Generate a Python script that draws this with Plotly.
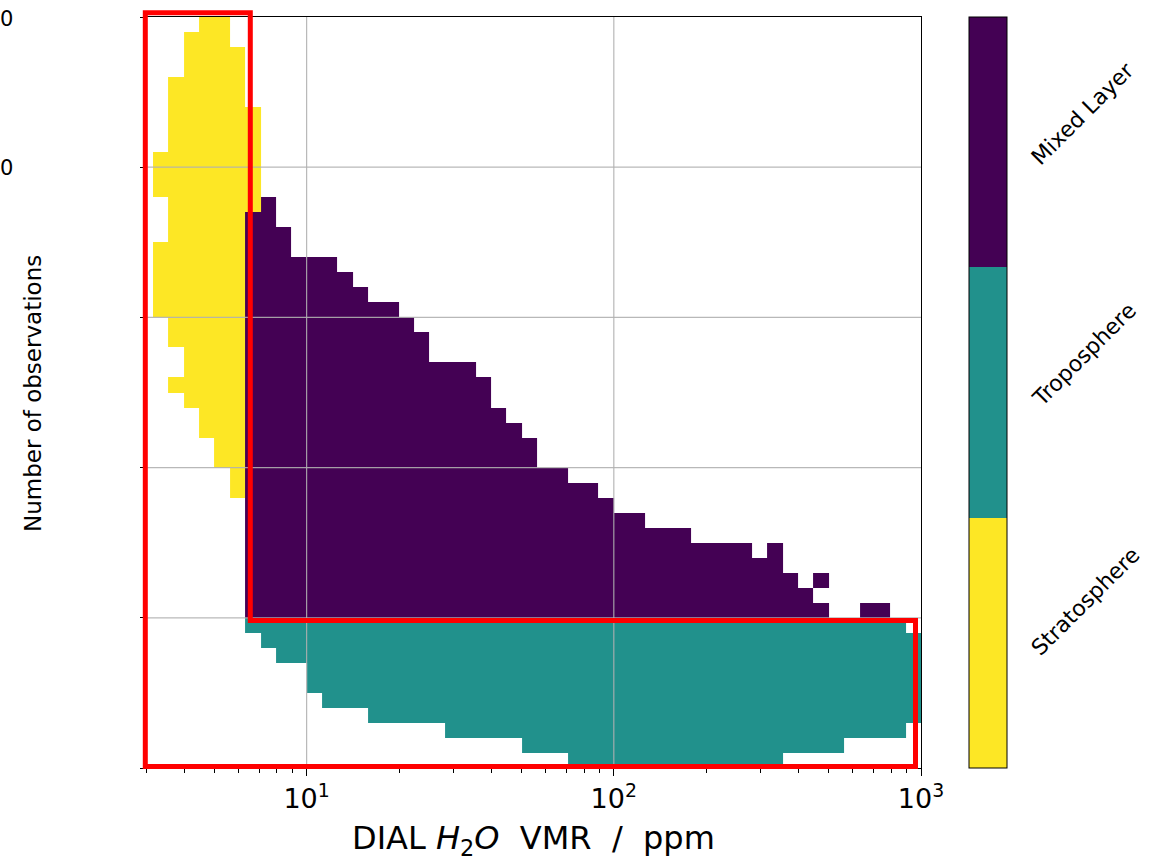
import numpy as np
import plotly.graph_objects as go

# ---------------- data ----------------
N_COLS = 50            # x bins: 20 per decade from 10^0.5 to 10^3
N_ROWS = 50            # y bins
x_edges = [10 ** (0.5 + j / 20) for j in range(N_COLS + 1)]
y_edges = list(range(N_ROWS + 1))

categories = ["Stratosphere", "Troposphere", "Mixed Layer"]
cat_colors = ["#fde725", "#21918c", "#440154"]

# Stratosphere (yellow): per column lowest / highest filled row
strat_cols = [0, 1, 2, 3, 4, 5, 6]
strat_low = [30, 28, 24, 22, 20, 18, 37]
strat_high = [40, 45, 48, 49, 49, 47, 43]
strat_holes = [(0, 35), (0, 36), (0, 37)]
strat_extra = [(1, 25)]

# Mixed layer (purple): columns 6..49, bottom row 10, top row per column
mixed_cols = list(range(6, 50))
mixed_bottom = 10
mixed_top = [36, 37, 35, 33, 33, 33, 32, 31, 30, 30,
             29, 28, 26, 26, 26, 25, 23, 22, 21, 19,
             19, 18, 18, 17, 16, 16, 15, 15, 15, 14,
             14, 14, 14, 13, 14, 12, 11, 12, None, None,
             10, 10, None, None]
mixed_holes = [(43, 11)]

# Troposphere (teal): columns 6..49
trop_cols = list(range(6, 50))
trop_top = [9] * 43 + [8]
trop_bottom = [9, 8, 7, 7, 5, 4, 4, 4, 3, 3,
               3, 3, 3, 2, 2, 2, 2, 2, 1, 1,
               1, 0, 0, 0, 0, 0, 0, 0, 0, 0,
               0, 0, 0, 0, 0, 1, 1, 1, 1, 2,
               2, 2, 2, 3]

y_tick_vals = [0, 10, 20, 30, 40, 50]
x_major = [10, 100, 1000]
x_major_text = ["10<sup>1</sup>", "10<sup>2</sup>", "10<sup>3</sup>"]
x_minor = [3, 4, 5, 6, 7, 8, 9, 20, 30, 40, 50, 60, 70, 80, 90,
           200, 300, 400, 500, 600, 700, 800, 900]

# ---------------- build grid ----------------
z = np.full((N_ROWS, N_COLS), np.nan)
for c, lo, hi in zip(strat_cols, strat_low, strat_high):
    z[lo:hi + 1, c] = 0
for c, r in strat_holes:
    z[r, c] = np.nan
for c, r in strat_extra:
    z[r, c] = 0
for c, lo, hi in zip(trop_cols, trop_bottom, trop_top):
    z[lo:hi + 1, c] = 1
for c, top in zip(mixed_cols, mixed_top):
    if top is not None:
        z[mixed_bottom:top + 1, c] = 2
for c, r in mixed_holes:
    z[r, c] = np.nan

colorscale = [[0, cat_colors[0]], [1 / 3, cat_colors[0]],
              [1 / 3, cat_colors[1]], [2 / 3, cat_colors[1]],
              [2 / 3, cat_colors[2]], [1, cat_colors[2]]]

# ---------------- layout geometry ----------------
W, H = 1153, 860
L, R, T, B = 146, 232, 17, 92
PW, PH = W - L - R, H - T - B
FONT = "DejaVu Sans"


def px(xp):
    return (xp - L) / PW


def py(yp):
    return (H - B - yp) / PH


fig = go.Figure()
fig.add_trace(go.Heatmap(
    x=x_edges, y=y_edges, z=z.tolist(),
    colorscale=colorscale, zmin=-0.5, zmax=2.5,
    hoverongaps=False,
    colorbar=dict(
        xref="paper", x=px(969), xanchor="left", xpad=0,
        yref="paper", y=0, yanchor="bottom", ypad=0,
        lenmode="fraction", len=1, thicknessmode="pixels", thickness=38,
        outlinewidth=1, outlinecolor="black",
        showticklabels=False, ticks="",
    ),
))

xmin = np.log10(3)
xmax = 3.0

fig.update_layout(
    width=W, height=H,
    margin=dict(l=L, r=R, t=T, b=B),
    paper_bgcolor="white", plot_bgcolor="white",
    font=dict(family=FONT, color="black"),
    showlegend=False,
    xaxis=dict(
        type="log", range=[xmin, xmax],
        tickmode="array", tickvals=x_major, ticktext=x_major_text,
        ticks="outside", ticklen=7, tickwidth=1, tickcolor="black",
        tickfont=dict(size=27, family=FONT),
        showgrid=False, zeroline=False,
        showline=True, linecolor="black", linewidth=1, mirror=True,
        layer="above traces",
        minor=dict(tickmode="array", tickvals=x_minor, ticks="outside",
                   ticklen=4, tickwidth=1, tickcolor="black", showgrid=False),
    ),
    yaxis=dict(
        range=[0, N_ROWS],
        tickmode="array", tickvals=y_tick_vals,
        ticks="outside", ticklen=5, tickwidth=1, tickcolor="black",
        showticklabels=False,
        showgrid=False, zeroline=False,
        showline=True, linecolor="black", linewidth=1, mirror=True,
        layer="above traces",
    ),
)

shapes = []
grid_color = "rgba(176,176,176,0.9)"
for v in [10, 100]:
    fx = (np.log10(v) - xmin) / (xmax - xmin)
    shapes.append(dict(type="line", xref="paper", yref="paper",
                       x0=fx, x1=fx, y0=0, y1=1,
                       line=dict(color=grid_color, width=1.2), layer="above"))
for v in y_tick_vals[1:-1]:
    shapes.append(dict(type="line", xref="paper", yref="y",
                       x0=0, x1=1, y0=v, y1=v,
                       line=dict(color=grid_color, width=1.2), layer="above"))

# red outline highlighting regions
pts = [(145.3, 12.7), (250.3, 12.7), (250.3, 620.5), (915.5, 620.5),
       (915.5, 766.5), (145.3, 766.5)]
path = "M " + " L ".join(f"{px(a):.5f},{py(b):.5f}" for a, b in pts) + " Z"
shapes.append(dict(type="path", xref="paper", yref="paper", path=path,
                   line=dict(color="#ff0000", width=5), layer="above"))
fig.update_layout(shapes=shapes)

ann = []
# y tick labels (only trailing digits visible at left edge)
for v, yp in [(50, 19), (40, 168)]:
    ann.append(dict(xref="paper", yref="paper", x=px(6.5), y=py(yp),
                    text="0", showarrow=False, xanchor="center", yanchor="middle",
                    font=dict(size=21, family=FONT)))
# y axis title
ann.append(dict(xref="paper", yref="paper", x=px(33), y=py(394),
                text="Number of observations", textangle=-90, showarrow=False,
                xanchor="center", yanchor="middle", font=dict(size=23, family=FONT)))
# x axis title
ann.append(dict(xref="paper", yref="paper", x=0.5, y=py(840),
                text="DIAL <i>H</i><sub>2</sub><i>O</i>  VMR  /  ppm",
                showarrow=False, xanchor="center", yanchor="middle",
                font=dict(size=32, family=FONT)))
# colorbar category labels
for name, (cx, cy) in zip(["Mixed Layer", "Troposphere", "Stratosphere"],
                          [(1083, 114), (1084, 354), (1085, 601)]):
    ann.append(dict(xref="paper", yref="paper", x=px(cx), y=py(cy),
                    text=name, textangle=-45, showarrow=False,
                    xanchor="center", yanchor="middle",
                    font=dict(size=22, family=FONT)))
fig.update_layout(annotations=ann)

fig.write_html("out.html")
